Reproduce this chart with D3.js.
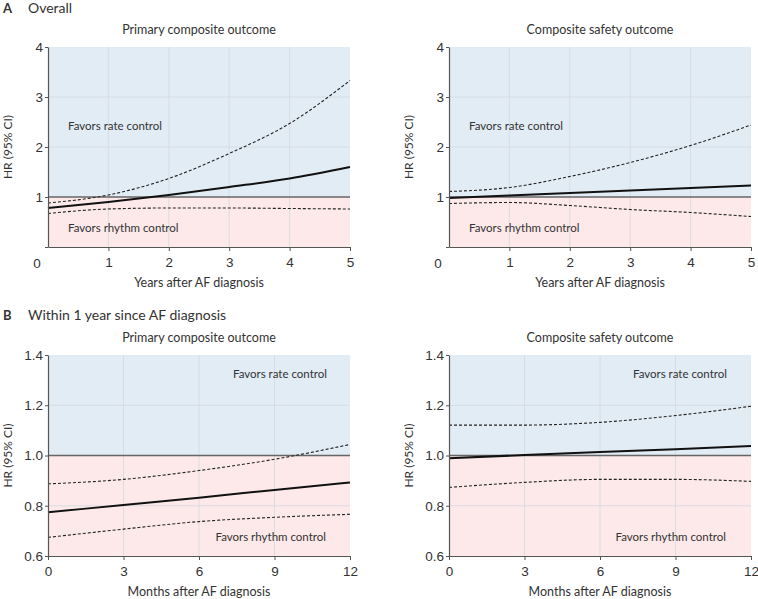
<!DOCTYPE html>
<html><head><meta charset="utf-8">
<script src="https://cdn.jsdelivr.net/npm/d3@7"></script>
<style>
body{margin:0;background:#fff;}
text{font-family:Lato,"Noto Sans",sans-serif;fill:#333;}
</style></head>
<body><svg id="c" width="758" height="599"></svg>
<script>
// ---- data ----
const yearsX = [0, 1, 2, 3, 4, 5];
const monthsX = [0, 3, 6, 9, 12];
const yearTicks = [1, 2, 3, 4, 5];
const monthTicks = [0, 3, 6, 9, 12];
const hrTicksA = [0, 1, 2, 3, 4];
const hrLabelsA = ["", "1", "2", "3", "4"];
const hrTicksB = [0.6, 0.8, 1.0, 1.2, 1.4];

// Panel A – primary composite outcome
const aPrimHR = [0.78, 0.90, 1.04, 1.20, 1.37, 1.60];
const aPrimUp = [0.88, 1.04, 1.37, 1.87, 2.47, 3.33];
const aPrimLo = [0.67, 0.76, 0.78, 0.78, 0.77, 0.76];
// Panel A – composite safety outcome
const aSafeHR = [0.98, 1.03, 1.08, 1.13, 1.18, 1.23];
const aSafeUp = [1.11, 1.19, 1.41, 1.69, 2.03, 2.44];
const aSafeLo = [0.87, 0.89, 0.83, 0.75, 0.69, 0.61];
// Panel B – primary composite outcome
const bPrimHR = [0.774, 0.803, 0.832, 0.863, 0.893];
const bPrimUp = [0.887, 0.905, 0.940, 0.985, 1.044];
const bPrimLo = [0.674, 0.707, 0.737, 0.754, 0.766];
// Panel B – composite safety outcome
const bSafeHR = [0.989, 1.002, 1.014, 1.025, 1.038];
const bSafeUp = [1.121, 1.121, 1.132, 1.159, 1.196];
const bSafeLo = [0.873, 0.893, 0.905, 0.905, 0.897];

const svg = d3.select("#c");
const numFont = "'Liberation Sans', Arial, sans-serif";

function panel(o){
  const g = svg.append("g");
  const x = d3.scaleLinear().domain(o.xdom).range([o.x0, o.x1]);
  const y = d3.scaleLinear().domain(o.ydom).range([o.y1, o.y0]);
  // shading
  g.append("rect").attr("x", x(o.xdom[0])).attr("y", y(o.ydom[1]))
    .attr("width", x(o.xdom[1]) - x(o.xdom[0])).attr("height", y(1) - y(o.ydom[1]))
    .attr("fill", "#e2ecf5");
  g.append("rect").attr("x", x(o.xdom[0])).attr("y", y(1))
    .attr("width", x(o.xdom[1]) - x(o.xdom[0])).attr("height", y(o.ydom[0]) - y(1))
    .attr("fill", "#fde9e9");
  // grid
  o.xgrid.forEach(v => g.append("line").attr("x1", x(v)).attr("x2", x(v))
    .attr("y1", y(o.ydom[0])).attr("y2", y(o.ydom[1])).attr("stroke", "#d3d9df").attr("stroke-width", 0.8));
  o.ygrid.forEach(v => g.append("line").attr("x1", x(o.xdom[0])).attr("x2", x(o.xdom[1]))
    .attr("y1", y(v)).attr("y2", y(v)).attr("stroke", "#d3d9df").attr("stroke-width", 0.8));
  // reference line
  g.append("line").attr("x1", x(o.xdom[0])).attr("x2", x(o.xdom[1]))
    .attr("y1", y(1)).attr("y2", y(1)).attr("stroke", "#666").attr("stroke-width", 1.6);
  // curves
  const line = d3.line().x((d, i) => x(o.xs[i])).y(d => y(d)).curve(d3.curveMonotoneX);
  [o.up, o.lo].forEach(arr => g.append("path").attr("d", line(arr)).attr("fill", "none")
    .attr("stroke", "#222").attr("stroke-width", 1.1).attr("stroke-dasharray", "3,2"));
  g.append("path").attr("d", line(o.hr)).attr("fill", "none")
    .attr("stroke", "#111").attr("stroke-width", 2);
  // axes
  const xa = g.append("g").attr("transform", `translate(0,${y(o.ydom[0])})`)
    .call(d3.axisBottom(x).tickValues(o.xticks).tickFormat(d3.format("d")).tickSize(4).tickSizeOuter(0).tickPadding(6));
  const ya = g.append("g").attr("transform", `translate(${x(o.xdom[0])},0)`)
    .call(d3.axisLeft(y).tickValues(o.yticks).tickFormat(o.yfmt).tickSize(3).tickSizeOuter(0).tickPadding(2));
  [xa, ya].forEach(a => {
    a.select(".domain").attr("stroke", "#555").attr("stroke-width", 1.2);
    a.selectAll(".tick line").attr("stroke", "#555");
    a.selectAll(".tick text").attr("font-size", 13.5).style("fill", "#333").style("font-family", numFont);
  });
  if (o.zero) g.append("text").attr("x", o.x0 - 11).attr("y", y(o.ydom[0]) + 21)
    .attr("text-anchor", "middle").attr("font-size", 13.5)
    .style("font-family", numFont).text("0");
  // titles
  g.append("text").attr("x", (o.x0 + o.x1) / 2).attr("y", o.y0 - 13).attr("text-anchor", "middle")
    .attr("font-size", 12.5).text(o.title);
  g.append("text").attr("x", (o.x0 + o.x1) / 2).attr("y", o.y1 + 40).attr("text-anchor", "middle")
    .attr("font-size", 12.5).text(o.xlabel);
  g.append("text").attr("transform", `translate(${o.x0 - 36},${(o.y0 + o.y1) / 2}) rotate(-90)`)
    .attr("text-anchor", "middle").attr("font-size", 12).text("HR (95% CI)");
  // annotations
  o.notes.forEach(n => g.append("text").attr("x", n.x).attr("y", n.y).attr("text-anchor", n.a)
    .attr("font-size", 11.5).text(n.t));
}

const A = {xdom: [0, 5], ydom: [0, 4], y0: 47, y1: 247, xs: yearsX, xticks: yearTicks,
  yticks: hrTicksA, yfmt: (d, i) => hrLabelsA[i], xgrid: [1, 2, 3, 4], ygrid: [2, 3], zero: true,
  xlabel: "Years after AF diagnosis"};
const B = {xdom: [0, 12], ydom: [0.6, 1.4], y0: 355, y1: 556, xs: monthsX, xticks: monthTicks,
  yticks: hrTicksB, yfmt: d3.format(".1f"), xgrid: [3, 6, 9], ygrid: [0.8, 1.2], zero: false,
  xlabel: "Months after AF diagnosis"};

panel(Object.assign({}, A, {x0: 48, x1: 350, title: "Primary composite outcome",
  hr: aPrimHR, up: aPrimUp, lo: aPrimLo,
  notes: [{x: 68, y: 130, a: "start", t: "Favors rate control"}, {x: 68, y: 232, a: "start", t: "Favors rhythm control"}]}));
panel(Object.assign({}, A, {x0: 449, x1: 751, title: "Composite safety outcome",
  hr: aSafeHR, up: aSafeUp, lo: aSafeLo,
  notes: [{x: 469, y: 130, a: "start", t: "Favors rate control"}, {x: 469, y: 232, a: "start", t: "Favors rhythm control"}]}));
panel(Object.assign({}, B, {x0: 48, x1: 350, title: "Primary composite outcome",
  hr: bPrimHR, up: bPrimUp, lo: bPrimLo,
  notes: [{x: 327, y: 378, a: "end", t: "Favors rate control"}, {x: 326, y: 541, a: "end", t: "Favors rhythm control"}]}));
panel(Object.assign({}, B, {x0: 449, x1: 751, title: "Composite safety outcome",
  hr: bSafeHR, up: bSafeUp, lo: bSafeLo,
  notes: [{x: 727, y: 378, a: "end", t: "Favors rate control"}, {x: 726, y: 541, a: "end", t: "Favors rhythm control"}]}));

// panel headers
svg.append("text").attr("x", 3).attr("y", 13).attr("font-size", 13).attr("font-weight", "bold").text("A");
svg.append("text").attr("x", 28).attr("y", 13).attr("font-size", 14).text("Overall");
svg.append("text").attr("x", 3).attr("y", 320).attr("font-size", 13).attr("font-weight", "bold").text("B");
svg.append("text").attr("x", 28).attr("y", 320).attr("font-size", 14).text("Within 1 year since AF diagnosis");
</script></body></html>
